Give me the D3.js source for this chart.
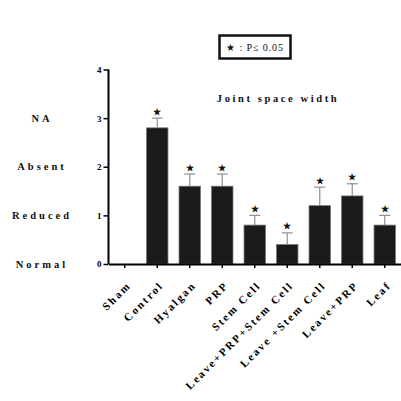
<!DOCTYPE html>
<html>
<head>
<meta charset="utf-8">
<script src="https://cdn.jsdelivr.net/npm/d3@7"></script>
<style>
  body { margin: 0; background: #fff; }
  text { font-family: "Liberation Serif", "DejaVu Serif", serif; font-weight: bold; }
</style>
</head>
<body>
<div id="chart"></div>
<script>
let groups = ['Sham', 'Control', 'Hyalgan', 'PRP', 'Stem Cell', 'Leave+PRP+Stem Cell', 'Leave +Stem Cell', 'Leave+PRP', 'Leaf'];
let means = [0, 2.8, 1.6, 1.6, 0.8, 0.4, 1.2, 1.4, 0.8];
let errors = [0, 0.2, 0.25, 0.25, 0.2, 0.24, 0.38, 0.25, 0.2];
let significant = [false, true, true, true, true, true, true, true, true];
let yTicks = [0, 1, 2, 3, 4];
let scoreLabels = ['Normal', 'Reduced', 'Absent', 'NA'];

let width, height;
width = height = 401;

let rows = groups.map((g, i) => ({ group: g, mean: means[i], err: errors[i], sig: significant[i] }));

let svg = d3.select('#chart')
    .append('svg')
    .attr('width', width)
    .attr('height', height);

let x = d3.scaleBand()
    .domain(groups)
    .range([108.5, 401])
    .paddingInner(0.34)
    .paddingOuter(0.17);

let y = d3.scaleLinear()
    .domain([0, 4])
    .range([264, 69.5]);

// bars
svg.append('g')
    .selectAll('rect')
    .data(rows)
    .join('rect')
    .attr('x', d => x(d.group))
    .attr('y', d => y(d.mean))
    .attr('width', x.bandwidth())
    .attr('height', d => y(0) - y(d.mean))
    .attr('fill', '#1b1a18')
    .attr('stroke', '#777')
    .attr('stroke-width', 0.8);

// error bars (upper only)
let errRows = rows.filter(d => d.err > 0);
let errG = svg.append('g')
    .attr('stroke', '#8f8f8f')
    .attr('stroke-width', 1.2);

errG.selectAll('line.stem')
    .data(errRows)
    .join('line')
    .attr('class', 'stem')
    .attr('x1', d => x(d.group) + x.bandwidth() / 2)
    .attr('x2', d => x(d.group) + x.bandwidth() / 2)
    .attr('y1', d => y(d.mean))
    .attr('y2', d => y(d.mean + d.err));

errG.selectAll('line.cap')
    .data(errRows)
    .join('line')
    .attr('class', 'cap')
    .attr('x1', d => x(d.group) + x.bandwidth() / 2 - 5.5)
    .attr('x2', d => x(d.group) + x.bandwidth() / 2 + 5.5)
    .attr('y1', d => y(d.mean + d.err))
    .attr('y2', d => y(d.mean + d.err));

// stars
svg.append('g')
    .selectAll('text')
    .data(rows.filter(d => d.sig))
    .join('text')
    .attr('x', d => x(d.group) + x.bandwidth() / 2)
    .attr('y', d => y(d.mean + d.err) - 3.5)
    .attr('text-anchor', 'middle')
    .attr('font-size', 8.5)
    .attr('fill', '#111')
    .text('★');

// y axis
let yAxis = svg.append('g')
    .attr('transform', 'translate(108.5,0)')
    .call(d3.axisLeft(y).tickValues(yTicks).tickFormat(d3.format('d')).tickSize(5).tickSizeOuter(0));
yAxis.select('.domain').attr('stroke-width', 2).attr('d', 'M0,' + y(4) + 'V' + y(0));
yAxis.selectAll('.tick line').attr('stroke-width', 1.5);
yAxis.selectAll('.tick text')
    .attr('font-size', 9)
    .attr('font-family', '"Liberation Serif", serif')
    .attr('x', -7);

// x axis
let xAxis = svg.append('g')
    .attr('transform', 'translate(0,264)')
    .call(d3.axisBottom(x).tickSize(4).tickSizeOuter(0));
xAxis.select('.domain').attr('stroke-width', 2);
xAxis.selectAll('.tick line').attr('stroke-width', 1.5);
xAxis.selectAll('.tick text')
    .attr('font-size', 11)
    .attr('font-family', '"Liberation Serif", serif')
    .attr('letter-spacing', 2.1)
    .attr('text-anchor', 'end')
    .attr('y', 0)
    .attr('dy', 0)
    .attr('transform', 'translate(7,22) rotate(-45)');

// score labels on the left
svg.append('g')
    .selectAll('text')
    .data(scoreLabels)
    .join('text')
    .attr('x', 42)
    .attr('y', (d, i) => y(i) + 3.5)
    .attr('text-anchor', 'middle')
    .attr('font-size', 10.5)
    .attr('letter-spacing', 3)
    .attr('fill', '#111')
    .text(d => d);

// title
svg.append('text')
    .attr('x', 278)
    .attr('y', 102)
    .attr('text-anchor', 'middle')
    .attr('font-size', 10.5)
    .attr('letter-spacing', 2.6)
    .attr('fill', '#111')
    .text('Joint space width');

// legend box
svg.append('rect')
    .attr('x', 219.5)
    .attr('y', 35.5)
    .attr('width', 71)
    .attr('height', 23)
    .attr('fill', 'none')
    .attr('stroke', '#111')
    .attr('stroke-width', 2.5);
svg.append('text')
    .attr('x', 255)
    .attr('y', 51)
    .attr('text-anchor', 'middle')
    .attr('font-size', 10)
    .style('font-weight', 'normal')
    .attr('letter-spacing', 0.9)
    .attr('fill', '#111')
    .text('★ : P≤ 0.05');
</script>
</body>
</html>
